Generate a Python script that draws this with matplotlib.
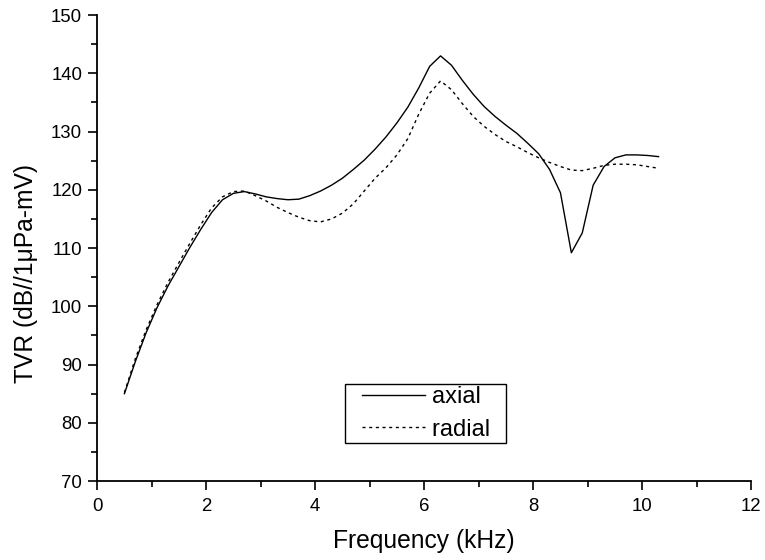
import numpy as np
import matplotlib
matplotlib.use("Agg")
import matplotlib.pyplot as plt
from matplotlib.ticker import MultipleLocator
from matplotlib.lines import Line2D
from matplotlib.legend_handler import HandlerLine2D

freq = [0.5, 0.7, 0.9, 1.1, 1.3, 1.5, 1.7, 1.9, 2.1, 2.3,
        2.5, 2.7, 2.9, 3.1, 3.3, 3.5, 3.7, 3.9, 4.1, 4.3,
        4.5, 4.7, 4.9, 5.1, 5.3, 5.5, 5.7, 5.9, 6.1, 6.3,
        6.5, 6.7, 6.9, 7.1, 7.3, 7.5, 7.7, 7.9, 8.1, 8.3,
        8.5, 8.7, 8.9, 9.1, 9.3, 9.5, 9.7, 9.9, 10.1, 10.3]

axial = [85.0, 90.5, 95.5, 99.8, 103.5, 106.8, 110.1, 113.2, 116.1, 118.3,
         119.4, 119.7, 119.3, 118.8, 118.5, 118.3, 118.4, 119.0, 119.8, 120.8,
         122.0, 123.5, 125.1, 127.0, 129.1, 131.5, 134.2, 137.5, 141.2, 143.0,
         141.4, 138.8, 136.4, 134.3, 132.6, 131.1, 129.7, 128.0, 126.2, 123.5,
         119.5, 109.2, 112.6, 120.8, 124.0, 125.5, 126.0, 126.0, 125.9, 125.7]

radial = [85.2, 91.0, 96.0, 100.3, 104.1, 107.5, 110.8, 114.0, 116.9, 118.8,
          119.7, 119.8, 119.0, 118.1, 117.0, 116.1, 115.3, 114.7, 114.5, 115.0,
          116.0, 117.6, 119.8, 122.0, 123.8, 126.0, 128.8, 133.0, 136.6, 138.7,
          137.2, 134.8, 132.6, 130.9, 129.5, 128.3, 127.4, 126.4, 125.5, 124.7,
          124.0, 123.4, 123.3, 123.7, 124.2, 124.4, 124.4, 124.3, 124.0, 123.7]

plt.rcParams['font.family'] = ['Liberation Sans', 'DejaVu Sans']

fig = plt.figure(figsize=(7.65, 5.6), dpi=100)
ax = fig.add_axes([0.127, 0.141, 0.855, 0.832])

ax.plot(freq, axial, '-', color='black', linewidth=1.0, label='axial  ')
ax.plot(freq, radial, color='black', linewidth=1.0, linestyle=(0, (2.2, 2.6)), label='radial  ')

ax.set_xlim(0, 12)
ax.set_ylim(70, 150)
ax.xaxis.set_major_locator(MultipleLocator(2))
ax.xaxis.set_minor_locator(MultipleLocator(1))
ax.yaxis.set_major_locator(MultipleLocator(10))
ax.yaxis.set_minor_locator(MultipleLocator(5))

ax.spines['top'].set_visible(False)
ax.spines['right'].set_visible(False)
ax.spines['left'].set_linewidth(1.3)
ax.spines['bottom'].set_linewidth(1.3)
ax.tick_params(which='major', direction='out', length=6.5, width=1.2, labelsize=13.4)
ax.tick_params(which='minor', direction='out', length=4.5, width=1.2)
ax.tick_params(axis='x', which='major', pad=5.5)
ax.tick_params(axis='y', which='major', pad=4.3)

ax.set_xlabel('Frequency (kHz)', fontsize=17.7)
ax.set_ylabel('TVR (dB//1\u03bcPa-mV)', fontsize=17.7)
ax.xaxis.set_label_coords(0.5, -0.103)
ax.yaxis.set_label_coords(-0.090, 0.446)

leg = ax.legend(loc='lower left', bbox_to_anchor=(0.379, 0.0815), borderaxespad=0,
                fontsize=17, fancybox=False, edgecolor='black', framealpha=1,
                handlelength=3.29, handletextpad=0.3, borderpad=0.1, labelspacing=0.45,
                handler_map={Line2D: HandlerLine2D(xpad=0.62)})
leg.get_frame().set_linewidth(1.0)

fig.savefig('out.png', dpi=100)
